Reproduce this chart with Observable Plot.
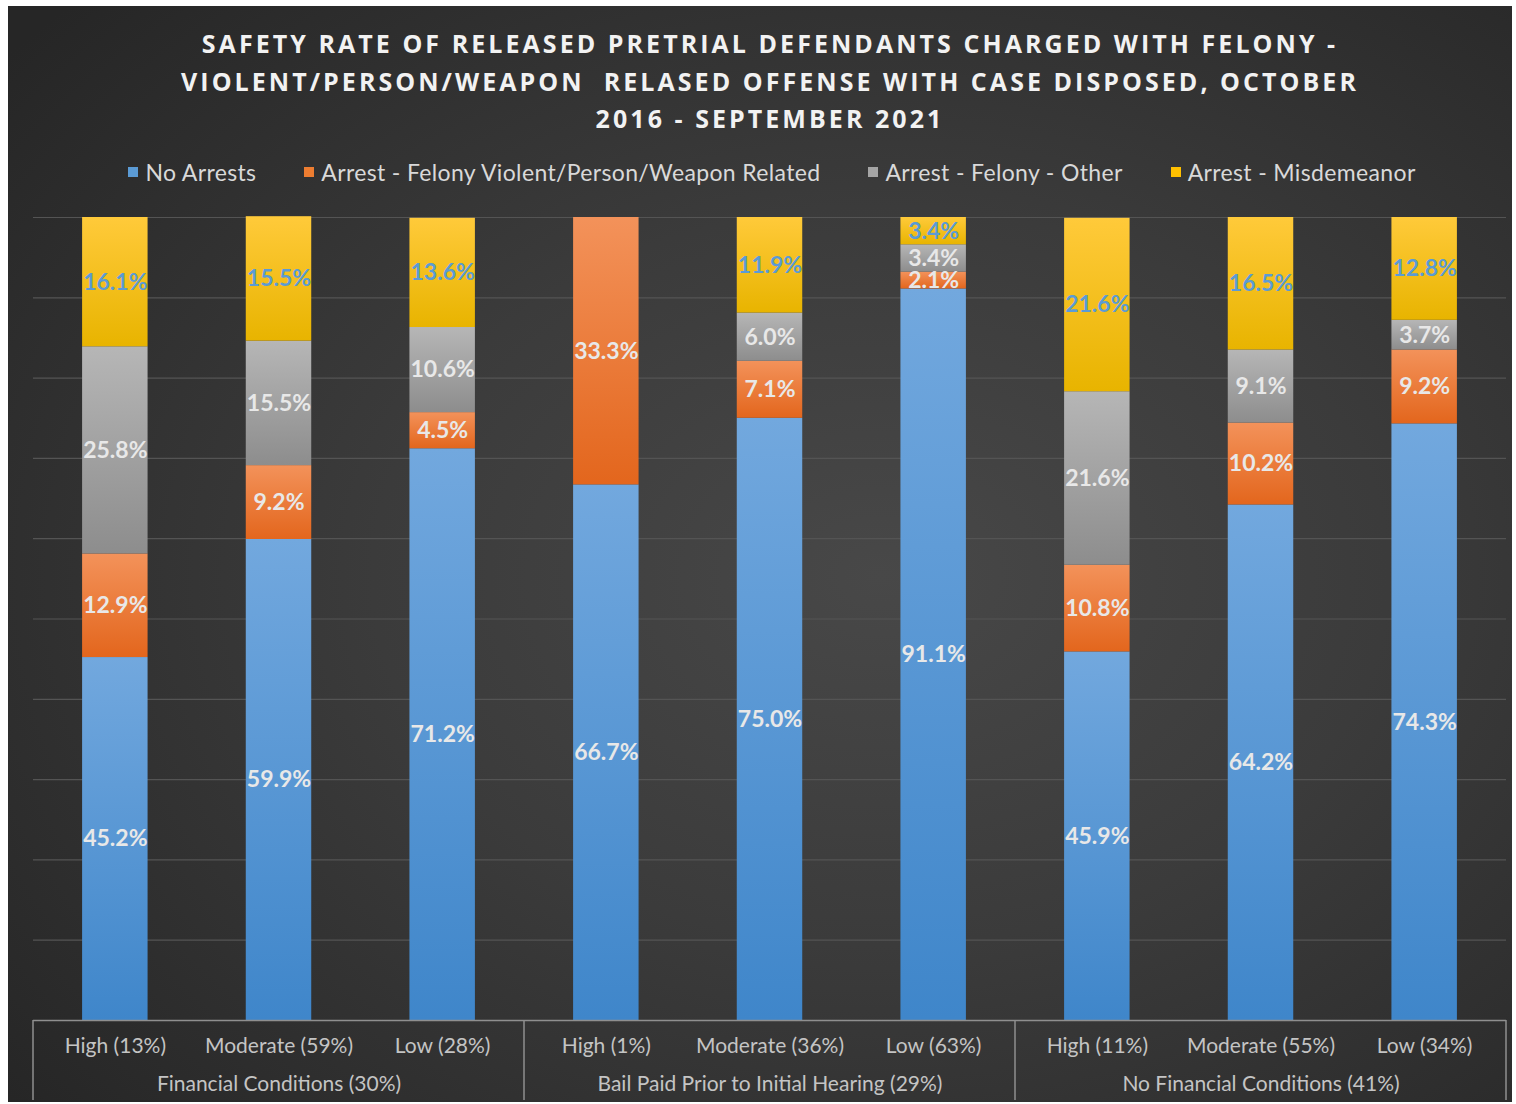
<!DOCTYPE html>
<html>
<head>
<meta charset="utf-8">
<script src="https://cdn.jsdelivr.net/npm/d3@7"></script>
<script src="https://cdn.jsdelivr.net/npm/@observablehq/plot@0.6"></script>
<style>
  html, body { margin: 0; padding: 0; background: #ffffff; }
  #chart {
    position: absolute; left: 8px; top: 6px; width: 1504px; height: 1096px;
    background: radial-gradient(ellipse 75% 75% at 58% 52%, #484848 0%, #3b3b3b 45%, #262626 100%);
    overflow: hidden;
  }
  #title {
    position: absolute; left: 10px; top: 19px; width: 1504px; text-align: center;
    font-family: "Open Sans", sans-serif; font-weight: 700; font-size: 25px;
    line-height: 37.5px; letter-spacing: 3.05px; color: #f2f2f2; white-space: pre;
  }
  #legend {
    position: absolute; left: 12px; top: 151px; width: 1504px; height: 30px;
    display: flex; justify-content: center; align-items: center; gap: 48px;
    font-family: Lato, sans-serif; font-size: 23px; letter-spacing: 0.35px; color: #d9d9d9;
  }
  #legend .item { display: flex; align-items: center; }
  #legend .sw { width: 10px; height: 10px; margin-right: 7px; }
  #plot { position: absolute; left: 0; top: 194px; }
</style>
</head>
<body>
<svg width="0" height="0" style="position:absolute">
  <defs>
    <linearGradient id="gBlue" x1="0" y1="0" x2="0" y2="1">
      <stop offset="0" stop-color="#72a8de"/><stop offset="1" stop-color="#3f86ca"/>
    </linearGradient>
    <linearGradient id="gOrange" x1="0" y1="0" x2="0" y2="1">
      <stop offset="0" stop-color="#f3925a"/><stop offset="1" stop-color="#e3661d"/>
    </linearGradient>
    <linearGradient id="gGray" x1="0" y1="0" x2="0" y2="1">
      <stop offset="0" stop-color="#b6b6b6"/><stop offset="1" stop-color="#8d8d8d"/>
    </linearGradient>
    <linearGradient id="gYellow" x1="0" y1="0" x2="0" y2="1">
      <stop offset="0" stop-color="#ffca3a"/><stop offset="1" stop-color="#e8b400"/>
    </linearGradient>
  </defs>
</svg>
<div id="chart">
  <div id="title"></div>
  <div id="legend"></div>
  <div id="plot"></div>
</div>
<script>
const titleLines = [
  "SAFETY RATE OF RELEASED PRETRIAL DEFENDANTS CHARGED WITH FELONY -",
  "VIOLENT/PERSON/WEAPON  RELASED OFFENSE WITH CASE DISPOSED, OCTOBER",
  "2016 - SEPTEMBER 2021"
];
const groups = [
  "Financial Conditions (30%)",
  "Bail Paid Prior to Initial Hearing (29%)",
  "No Financial Conditions (41%)"
];
const categories = [
  "High (13%)", "Moderate (59%)", "Low (28%)",
  "High (1%)", "Moderate (36%)", "Low (63%)",
  "High (11%)", "Moderate (55%)", "Low (34%)"
];
const categoryGroup = [0, 0, 0, 1, 1, 1, 2, 2, 2];
const seriesNames = [
  "No Arrests",
  "Arrest - Felony Violent/Person/Weapon Related",
  "Arrest - Felony - Other",
  "Arrest - Misdemeanor"
];
const noArrests     = [45.2, 59.9, 71.2, 66.7, 75.0, 91.1, 45.9, 64.2, 74.3];
const felonyViolent = [12.9,  9.2,  4.5, 33.3,  7.1,  2.1, 10.8, 10.2,  9.2];
const felonyOther   = [25.8, 15.5, 10.6,  0.0,  6.0,  3.4, 21.6,  9.1,  3.7];
const misdemeanor   = [16.1, 15.5, 13.6,  0.0, 11.9,  3.4, 21.6, 16.5, 12.8];
const yTicks = [10, 20, 30, 40, 50, 60, 70, 80, 90, 100];

const seriesValues = [noArrests, felonyViolent, felonyOther, misdemeanor];
const legendColors = ["#5b9bd5", "#ed7d31", "#a5a5a5", "#ffc000"];
const fillUrls = ["url(#gBlue)", "url(#gOrange)", "url(#gGray)", "url(#gYellow)"];

document.getElementById("title").textContent = titleLines.join("\n");
const legend = document.getElementById("legend");
seriesNames.forEach((s, i) => {
  const it = document.createElement("div"); it.className = "item";
  const sw = document.createElement("div"); sw.className = "sw"; sw.style.background = legendColors[i];
  const tx = document.createElement("span"); tx.textContent = s;
  it.appendChild(sw); it.appendChild(tx); legend.appendChild(it);
});

const data = [];
seriesNames.forEach((s, si) => {
  categories.forEach((c, ci) => {
    data.push({category: c, series: s, value: seriesValues[si][ci]});
  });
});
const labelData = data.filter(d => d.value > 0);

const middleCats = groups.map((g, gi) => categories.filter((c, ci) => categoryGroup[ci] === gi)[1]);
const groupOfMiddle = new Map(middleCats.map((c, i) => [c, groups[i]]));
const firstCats = groups.map((g, gi) => categories.find((c, ci) => categoryGroup[ci] === gi));

function separators(index, scales, values, dimensions) {
  const x = scales.x, y = scales.y;
  const step = x.step(), bw = x.bandwidth(), gap = (step - bw) / 2;
  const xs = firstCats.map(c => x(c) - gap);
  xs.push(x(categories[categories.length - 1]) + bw + gap);
  const g = d3.create("svg:g");
  const y0 = y(0);
  for (const xv of xs) {
    g.append("line").attr("x1", xv).attr("x2", xv)
      .attr("y1", y0).attr("y2", dimensions.height - 2)
      .attr("stroke", "#8f8f8f").attr("stroke-width", 1.5);
  }
  return g.node();
}

const plot = Plot.plot({
  width: 1504,
  height: 902,
  marginTop: 17,
  marginBottom: 82,
  marginLeft: 25,
  marginRight: 6,
  style: {background: "transparent", fontFamily: "Lato, sans-serif", color: "#bfbfbf", overflow: "visible"},
  x: {domain: categories, paddingInner: 0.6, paddingOuter: 0.3, round: false, label: null},
  y: {domain: [0, 100], axis: null},
  color: {domain: seriesNames, range: fillUrls},
  marks: [
    Plot.ruleY(yTicks, {stroke: "#545454", strokeWidth: 1.2}),
    Plot.barY(data, {x: "category", y: "value", fill: "series", order: seriesNames}),
    Plot.text(labelData, Plot.stackY({
      x: "category", y: "value", z: "series", order: seriesNames,
      text: d => d.value.toFixed(1) + "%",
      fill: d => d.series === seriesNames[3] ? "#5b9bd5" : "#e8e8e8",
      fontSize: 23, fontWeight: "bold"
    })),
    Plot.ruleY([0], {stroke: "#8f8f8f", strokeWidth: 1.5}),
    Plot.axisX({tickSize: 0, tickPadding: 18, fontSize: 21, fill: "#c4c4c4", label: null}),
    Plot.axisX(middleCats, {tickSize: 0, tickPadding: 56, fontSize: 21, fill: "#c4c4c4", label: null,
      tickFormat: d => groupOfMiddle.get(d)}),
    separators
  ]
});
document.getElementById("plot").appendChild(plot);
</script>
</body>
</html>
